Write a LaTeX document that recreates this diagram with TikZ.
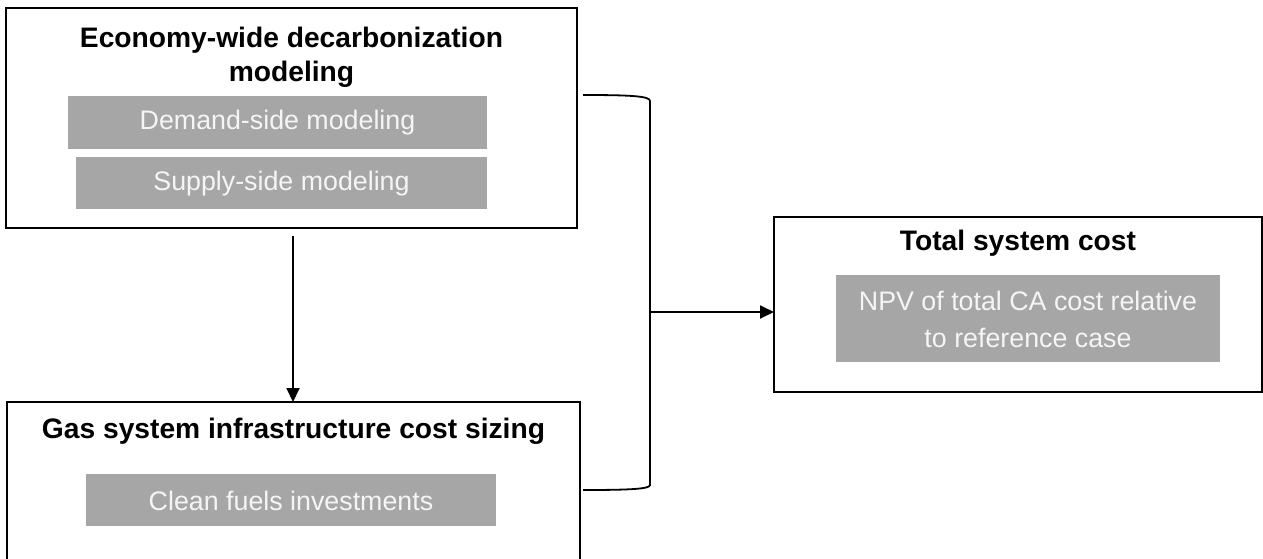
\documentclass[tikz,border=0pt]{standalone}
\usepackage{fontspec}
\setmainfont{Liberation Sans}
\usetikzlibrary{arrows.meta}
\definecolor{boxgray}{HTML}{A6A6A6}
\definecolor{boxtext}{HTML}{F5F5F5}
\begin{document}
\begin{tikzpicture}[x=1pt,y=-1pt,
  frame/.style={draw=black,line width=1.8pt,fill=white},
  graybox/.style={fill=boxgray,draw=none,inner sep=0pt},
  title/.style={font=\fontsize{28.2}{34}\selectfont\bfseries,align=center,inner sep=0pt},
  graytext/.style={font=\fontsize{26.8}{37}\selectfont,text=boxtext,align=center,inner sep=0pt},
  conn/.style={line width=1.8pt,draw=black},
  arr/.style={conn,-{Triangle[length=14pt,width=13pt]}}]
\useasboundingbox (0,0) rectangle (1263,558);
\clip (0,0) rectangle (1263,558);
% box 1
\draw[frame] (6,8) rectangle (577,228);
\coordinate (b1s) at (293,236);
\node[title] (t1) at (291.5,57) {Economy-wide decarbonization\\modeling};
\fill[graybox] (68,96) rectangle (487,149);
\node[graytext] (d1) at (277.5,123) {Demand-side modeling};
\fill[graybox] (76,157) rectangle (487,209);
\node[graytext] (s1) at (281.5,183.5) {Supply-side modeling};
% box 2
\draw[frame] (7,402) rectangle (580,600);
\coordinate (b2n) at (293,402);
\node[title] (t2) at (293.5,431) {Gas system infrastructure cost sizing};
\fill[graybox] (86,474) rectangle (496,526);
\node[graytext] (c2) at (291,500.5) {Clean fuels investments};
% box 3
\draw[frame] (774,217) rectangle (1262,392);
\coordinate (b3w) at (774,312);
\node[title] (t3) at (1018,243) {Total system cost};
\fill[graybox] (836,275) rectangle (1220,362);
\node[graytext] (n3) at (1028,319) {NPV of total CA cost relative\\to reference case};
% connectors
\draw[arr] (b1s) -- (b2n);
\coordinate (bt) at (583,95);
\coordinate (bb) at (583,490);
\coordinate (bm) at (650,312);
\draw[conn] (bt) .. controls (630,95) and (650,96) .. (650,101) -- (650,485) .. controls (650,489) and (630,490) .. (bb);
\draw[arr] (bm) -- (b3w);
\end{tikzpicture}
\end{document}
